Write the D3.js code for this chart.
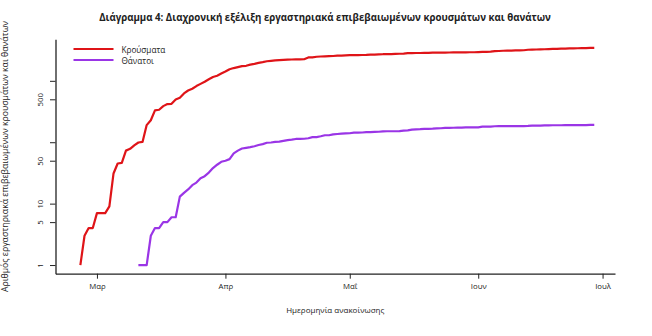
<!DOCTYPE html>
<html>
<head>
<meta charset="utf-8">
<script src="https://cdn.jsdelivr.net/npm/d3@7"></script>
<style>
  html, body { margin: 0; padding: 0; background: #fff; }
  svg { display: block; }
  text { font-family: "Open Sans", "Noto Sans", sans-serif; fill: #222; }
</style>
</head>
<body>
<svg id="chart" width="652" height="336"></svg>
<script>
// ---- data ----
const titleText = "Διάγραμμα 4: Διαχρονική εξέλιξη εργαστηριακά επιβεβαιωμένων κρουσμάτων και θανάτων";
const xTitle = "Ημερομηνία ανακοίνωσης";
const yTitle = "Αριθμός εργαστηριακά επιβεβαιωμένων κρουσμάτων και θανάτων";
const seriesNames = ["Κρούσματα", "Θάνατοι"];
const seriesColors = ["#df1418", "#9a35e6"];

const casesStart = "2020-02-26";
const cases = [
  1, 3, 4, 4,
  7, 7, 7, 9, 31, 45, 46, 73, 78, 89, 99, 101, 190, 228, 331, 338, 387, 418, 422, 495, 530, 624, 695, 743, 821, 892, 966, 1061, 1156, 1212, 1314,
  1415, 1544, 1613, 1673, 1735, 1755, 1832, 1884, 1955, 2011, 2081, 2114, 2145, 2170, 2192, 2207, 2224, 2235, 2235, 2245, 2401, 2408, 2463, 2490, 2506, 2517, 2534, 2566, 2576, 2591,
  2612, 2620, 2626, 2632, 2642, 2663, 2678, 2691, 2710, 2716, 2726, 2744, 2760, 2770, 2819, 2834, 2836, 2840, 2850, 2853, 2873, 2876, 2878, 2882, 2892, 2903, 2906, 2909, 2915, 2917, 2918,
  2937, 2952, 2967, 2980, 3049, 3058, 3088, 3108, 3112, 3121, 3134, 3148, 3203, 3227, 3237, 3256, 3266, 3287, 3302, 3310, 3340, 3343, 3366, 3376, 3390, 3409, 3419, 3428, 3432
];

const deathsStart = "2020-03-11";
const deaths = [
  1, 1, 1, 3, 4, 4, 5, 5, 6, 6, 13, 15, 17, 20, 22, 26, 28, 32, 38, 43, 48,
  50, 53, 66, 73, 79, 81, 83, 86, 90, 93, 98, 99, 101, 102, 105, 108, 110, 113, 113, 114, 116, 121, 121, 125, 130, 130, 134, 136, 138, 139,
  140, 143, 143, 144, 146, 146, 147, 148, 150, 151, 151, 151, 152, 155, 156, 160, 162, 163, 165, 165, 166, 168, 169, 171, 171, 172, 173, 173, 175, 175, 175,
  175, 179, 179, 180, 182, 183, 183, 183, 183, 183, 183, 183, 184, 186, 187, 187, 188, 188, 189, 189, 189, 190, 190, 190, 190, 190, 190, 191, 191
];

const xTickDates = ["2020-03-01", "2020-04-01", "2020-05-01", "2020-06-01", "2020-07-01"];
const xTickLabels = ["Μαρ", "Απρ", "Μαΐ", "Ιουν", "Ιουλ"];
const yTickValues = [1, 5, 10, 50, 100, 500, 1000];
const yTickLabels = ["1", "5", "10", "50", "", "500", ""];

// ---- layout ----
const parse = d3.utcParse("%Y-%m-%d");
const plot = { left: 55.5, right: 615, top: 39.3, bottom: 273.7 };
const xDomain = [parse("2020-02-20"), parse("2020-07-04")];
const yDomain = [Math.pow(10, -0.141), Math.pow(10, 3.676)];

const svg = d3.select("#chart");
const x = d3.scaleUtc().domain(xDomain).range([plot.left, plot.right]);
const y = d3.scaleLog().domain(yDomain).range([plot.bottom, plot.top]);

const toSeries = (start, vals) => vals.map((v, i) => ({ date: d3.utcDay.offset(parse(start), i), value: v }));
const series = [toSeries(casesStart, cases), toSeries(deathsStart, deaths)];

// title
svg.append("text")
  .attr("x", 325).attr("y", 21)
  .attr("text-anchor", "middle")
  .attr("font-weight", "bold")
  .attr("font-size", 9.7)
  .text(titleText);

// x axis
const xAxis = d3.axisBottom(x)
  .tickValues(xTickDates.map(parse))
  .tickFormat((d, i) => xTickLabels[i])
  .tickSizeOuter(0).tickSizeInner(5).tickPadding(5);
const gx = svg.append("g").attr("transform", `translate(0,${plot.bottom})`).call(xAxis);
gx.select(".domain").attr("stroke", "#222").attr("stroke-width", 1.3);
gx.selectAll(".tick line").attr("stroke", "#222").attr("stroke-width", 1);
gx.selectAll(".tick text").attr("font-size", 7.8).attr("fill", "#333").attr("font-family", "\"Open Sans\", sans-serif");

// y axis
const yAxis = d3.axisLeft(y)
  .tickValues(yTickValues)
  .tickFormat((d, i) => yTickLabels[i])
  .tickSizeOuter(0).tickSizeInner(5.5);
const gy = svg.append("g").attr("transform", `translate(${plot.left},0)`).call(yAxis);
gy.select(".domain").attr("stroke", "#222").attr("stroke-width", 1.3);
gy.selectAll(".tick line").attr("stroke", "#222").attr("stroke-width", 1);
gy.selectAll(".tick text")
  .attr("font-size", 7.8).attr("fill", "#333").attr("font-family", "\"Open Sans\", sans-serif")
  .attr("transform", "rotate(-90)")
  .attr("x", 0).attr("y", -12.5).attr("dy", 0)
  .attr("text-anchor", "middle");

// axis titles
svg.append("text")
  .attr("x", (plot.left + plot.right) / 2).attr("y", 313)
  .attr("text-anchor", "middle").attr("font-size", 8).attr("fill", "#333")
  .text(xTitle);
svg.append("text")
  .attr("transform", `translate(8,${(plot.top + plot.bottom) / 2}) rotate(-90)`)
  .attr("text-anchor", "middle").attr("font-size", 8.7).attr("fill", "#333")
  .text(yTitle);

// lines
const line = d3.line().x(d => x(d.date)).y(d => y(d.value));
series.forEach((s, i) => {
  svg.append("path").datum(s)
    .attr("fill", "none")
    .attr("stroke", seriesColors[i])
    .attr("stroke-width", 2.2)
    .attr("stroke-linejoin", "round")
    .attr("d", line);
});

// legend
const legendY = [49, 60];
seriesNames.forEach((name, i) => {
  svg.append("line")
    .attr("x1", 73.5).attr("x2", 113.5)
    .attr("y1", legendY[i]).attr("y2", legendY[i])
    .attr("stroke", seriesColors[i]).attr("stroke-width", 2.2);
  svg.append("text")
    .attr("x", 121.5).attr("y", legendY[i])
    .attr("dominant-baseline", "central")
    .attr("font-size", 8.2).attr("fill", "#333")
    .text(name);
});
</script>
</body>
</html>
